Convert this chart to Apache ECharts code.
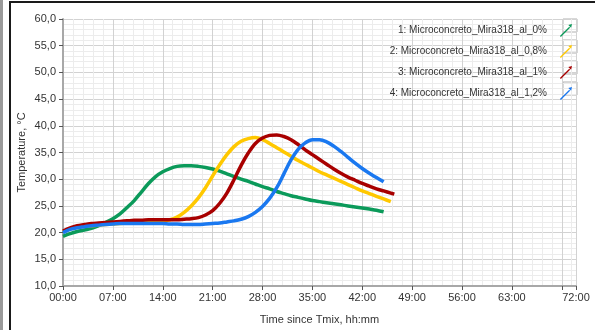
<!DOCTYPE html>
<html>
<head>
<meta charset="utf-8">
<script src="https://cdn.jsdelivr.net/npm/echarts@6/dist/echarts.min.js"></script>
<style>
  html, body { margin: 0; padding: 0; background: #ffffff; }
  #chart { width: 595px; height: 330px; }
</style>
</head>
<body>
<div id="chart"></div>
<script>
// Hours since Tmix for each sample (last entry is a half hour)
const hours = [0,1,2,3,4,5,6,7,8,9,10,11,12,13,14,15,16,17,18,19,20,21,22,23,24,25,26,27,28,29,30,31,32,33,34,35,36,37,38,39,40,41,42,43,44,45,46,46.5];

const seriesNames = [
  '1: Microconcreto_Mira318_al_0%',
  '2: Microconcreto_Mira318_al_0,8%',
  '3: Microconcreto_Mira318_al_1%',
  '4: Microconcreto_Mira318_al_1,2%'
];

// Temperatures in °C, one value per entry of `hours`
const temp0 = [19.3,19.8,20.2,20.5,20.8,21.3,21.9,22.6,23.5,24.7,26.0,27.6,29.2,30.5,31.4,32.0,32.4,32.5,32.5,32.4,32.2,31.9,31.5,31.0,30.5,30.0,29.6,29.1,28.6,28.2,27.7,27.3,26.9,26.6,26.3,26.0,25.8,25.6,25.4,25.2,25.0,24.8,24.6,24.4,24.2,23.9];
const temp08 = [20.2,20.7,21.0,21.2,21.3,21.4,21.5,21.6,21.7,21.8,21.9,22.0,22.0,22.1,22.2,22.4,22.9,23.8,25.0,26.5,28.4,30.6,32.7,34.6,36.1,37.1,37.6,37.8,37.4,36.7,35.9,35.1,34.3,33.5,32.8,32.1,31.4,30.8,30.2,29.6,29.0,28.4,27.8,27.3,26.8,26.3,25.8];
const temp1 = [20.3,20.9,21.3,21.5,21.7,21.8,21.9,22.0,22.1,22.2,22.3,22.3,22.4,22.4,22.4,22.4,22.4,22.5,22.6,22.8,23.3,24.1,25.5,27.4,29.9,32.6,34.9,36.7,37.7,38.2,38.3,38.0,37.4,36.5,35.5,34.6,33.7,32.8,31.9,31.1,30.4,29.8,29.2,28.7,28.2,27.8,27.4,27.2];
const temp12 = [20.0,20.6,20.9,21.1,21.3,21.4,21.5,21.6,21.7,21.7,21.7,21.7,21.7,21.7,21.7,21.6,21.6,21.5,21.5,21.5,21.6,21.7,21.8,22.0,22.2,22.5,23.0,23.8,24.9,26.4,28.4,31.0,33.6,35.6,36.8,37.4,37.4,37.0,36.2,35.2,34.1,33.0,32.0,31.1,30.3,29.5];

const colors = ['#0b9a5a', '#ffc800', '#a80000', '#1a78f0'];

// Axis tick settings
const xMax = 72, xStep = 7;
const yMin = 10, yMax = 60, yStep = 5;

function pairs(values) {
  return values.map((v, i) => [hours[i], v]);
}

const chart = echarts.init(document.getElementById('chart'), null, { renderer: 'canvas' });

const textColor = '#333333';
const font = 'Liberation Sans, Arial, sans-serif';

const legendIcon = 'path://M0,13 L10,3 L11,4 L1,14 Z M9,1 L13,0 L12,4 Z';

chart.setOption({
  animation: false,
  backgroundColor: '#ffffff',
  textStyle: { fontFamily: font },
  grid: { left: 63, right: 19, top: 19, bottom: 42, containLabel: false },
  xAxis: {
    type: 'value',
    min: 0, max: xMax, interval: xStep,
    name: 'Time since Tmix, hh:mm',
    nameLocation: 'middle',
    nameGap: 28,
    nameMoveOverlap: false,
    nameTextStyle: { color: textColor, fontSize: 11, fontFamily: font },
    axisLine: { show: true, lineStyle: { color: '#a8a8a8', width: 2 } },
    axisTick: { show: true, length: 4, lineStyle: { color: '#555' } },
    axisLabel: {
      color: textColor, fontSize: 11, fontFamily: font, margin: 6,
      formatter: v => (v === 70 ? '' : String(v).padStart(2, '0') + ':00')
    },
    splitLine: { show: true, lineStyle: { color: '#d2d2d2', width: 1 } },
    minorTick: { show: false, splitNumber: 5 },
    minorSplitLine: { show: true, lineStyle: { color: '#ececec', width: 1 } }
  },
  yAxis: {
    type: 'value',
    min: yMin, max: yMax, interval: yStep,
    name: 'Temperature, °C',
    nameLocation: 'middle',
    nameGap: 36,
    nameMoveOverlap: false,
    nameRotate: 90,
    nameTextStyle: { color: textColor, fontSize: 11, fontFamily: font },
    axisLine: { show: true, lineStyle: { color: '#a8a8a8', width: 2 } },
    axisTick: { show: true, length: 4, lineStyle: { color: '#555' } },
    axisLabel: {
      color: textColor, fontSize: 11, fontFamily: font, margin: 7,
      formatter: v => v.toFixed(1).replace('.', ',')
    },
    splitLine: { show: true, lineStyle: { color: '#d2d2d2', width: 1 } },
    minorTick: { show: false, splitNumber: 5 },
    minorSplitLine: { show: true, lineStyle: { color: '#ececec', width: 1 } }
  },
  legend: {
    orient: 'vertical',
    right: 18,
    top: 19,
    align: 'right',
    itemWidth: 14,
    itemHeight: 13,
    itemGap: 8,
    icon: legendIcon,
    textStyle: { color: textColor, fontSize: 10, fontFamily: font, padding: [0, 7, 0, 0] },
    data: seriesNames
  },
  graphic: [
    // outer frame of the panel
    { type: 'rect', silent: true, shape: { x: 10, y: 2, width: 620, height: 360 },
      style: { fill: 'none', stroke: '#1a1a1a', lineWidth: 2 } },
    { type: 'rect', silent: true, shape: { x: 0, y: 0, width: 3, height: 330 },
      style: { fill: '#9a9a9a' } },
    // boxes around the legend swatches
    ...[0, 1, 2, 3].map(i => ({
      type: 'rect', silent: true, z: 0,
      shape: { x: 563, y: 19 + i * 21, width: 14, height: 13 },
      style: { fill: '#ffffff', stroke: '#b0b0b0', lineWidth: 1 }
    }))
  ],
  series: [temp0, temp08, temp1, temp12].map((vals, i) => ({
    name: seriesNames[i],
    type: 'line',
    data: pairs(vals),
    smooth: 0.35,
    showSymbol: false,
    symbol: 'none',
    lineStyle: { color: colors[i], width: 3.5 },
    itemStyle: { color: colors[i] },
    z: 2 + i
  }))
});
</script>
</body>
</html>
